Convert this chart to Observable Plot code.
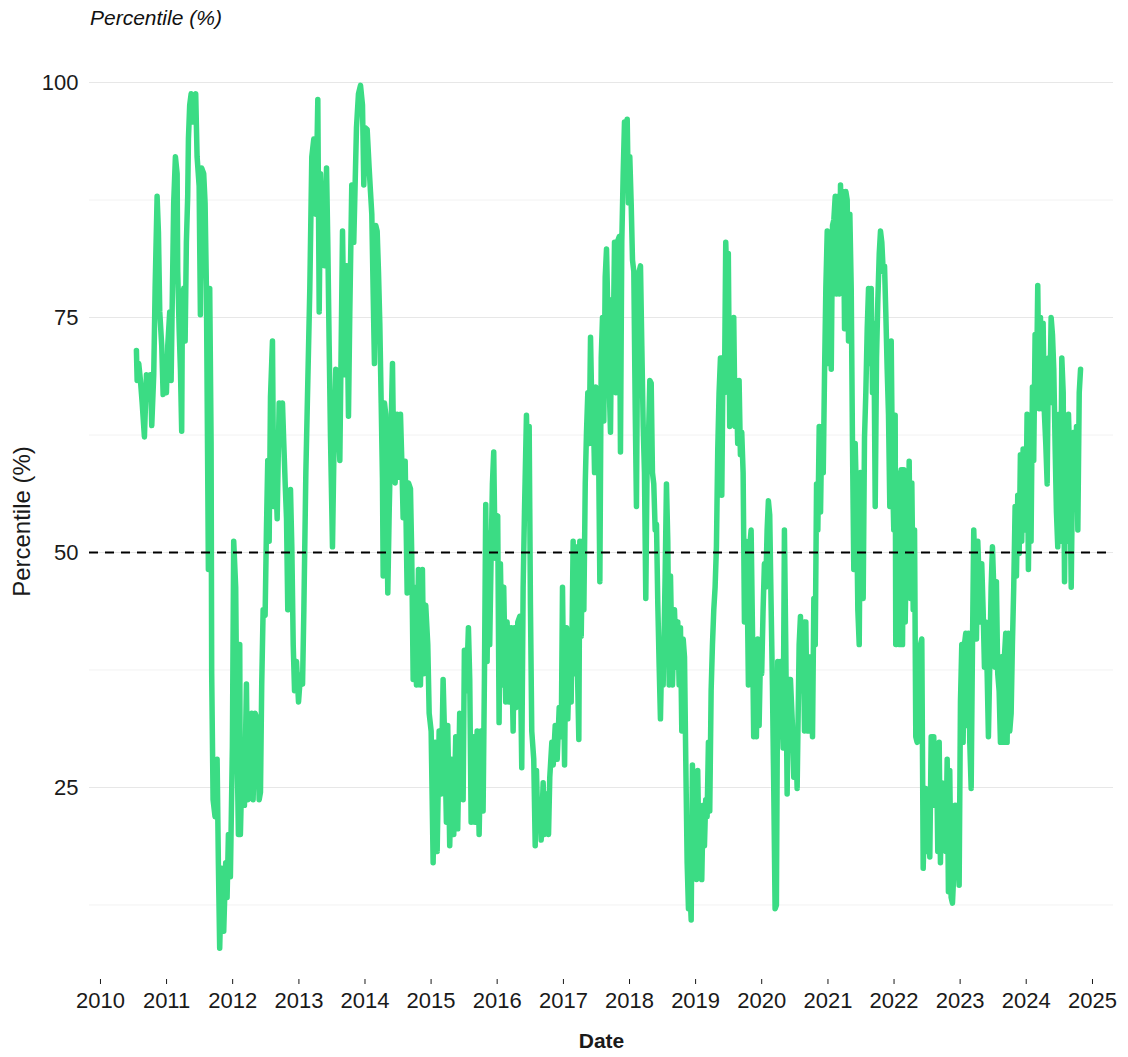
<!DOCTYPE html>
<html><head><meta charset="utf-8">
<script src="https://cdn.jsdelivr.net/npm/d3@7"></script>
<script src="https://cdn.jsdelivr.net/npm/@observablehq/plot@0.6"></script>
<style>
body{margin:0;background:#fff;font-family:"Liberation Sans",Arial,sans-serif;}
#wrap{position:relative;width:1128px;height:1057px;}
#title{position:absolute;left:90px;top:6px;font-style:italic;font-size:21px;color:#111;}
</style></head><body><div id="wrap"><div id="title">Percentile (%)</div></div>
<script>
const years = [
2010.544,2010.555,2010.579,2010.605,2010.631,2010.665,2010.696,2010.726,2010.756,2010.776,2010.806,2010.827,2010.857,2010.877,2010.897,2010.927,2010.948,2010.978,2010.998,
2011.018,2011.048,2011.069,2011.089,2011.108,2011.134,2011.160,2011.169,2011.190,2011.210,2011.229,2011.240,2011.260,2011.281,2011.300,2011.320,2011.331,2011.350,2011.372,2011.391,2011.411,2011.441,2011.462,2011.493,2011.512,2011.532,2011.562,2011.583,2011.603,2011.633,2011.653,2011.674,2011.683,2011.704,2011.734,2011.765,2011.784,2011.804,2011.834,2011.865,2011.895,2011.916,2011.936,2011.966,2011.996,
2012.016,2012.046,2012.067,2012.087,2012.107,2012.117,2012.147,2012.178,2012.208,2012.228,2012.258,2012.288,2012.309,2012.339,2012.370,2012.400,2012.420,2012.439,2012.460,2012.490,2012.510,2012.530,2012.551,2012.571,2012.601,2012.621,2012.642,2012.672,2012.702,2012.722,2012.752,2012.772,2012.793,2012.813,2012.832,2012.853,2012.873,2012.893,2012.914,2012.934,2012.964,2012.994,
2013.024,2013.055,2013.075,2013.105,2013.135,2013.165,2013.195,2013.225,2013.256,2013.286,2013.307,2013.327,2013.357,2013.387,2013.418,2013.437,2013.458,2013.478,2013.508,2013.528,2013.558,2013.588,2013.619,2013.660,2013.690,2013.720,2013.750,2013.770,2013.800,2013.830,2013.871,2013.901,2013.932,2013.962,2013.982,
2014.003,2014.033,2014.063,2014.083,2014.103,2014.124,2014.143,2014.163,2014.184,2014.204,2014.224,2014.245,2014.264,2014.275,2014.295,2014.314,2014.345,2014.366,2014.385,2014.416,2014.435,2014.456,2014.486,2014.517,2014.537,2014.556,2014.577,2014.608,2014.638,2014.658,2014.688,2014.707,2014.729,2014.748,2014.779,2014.809,2014.839,2014.869,2014.889,2014.919,2014.950,2014.971,
2015.001,2015.031,2015.061,2015.092,2015.122,2015.152,2015.182,2015.213,2015.232,2015.252,2015.282,2015.312,2015.343,2015.373,2015.403,2015.433,2015.464,2015.485,2015.504,2015.535,2015.565,2015.585,2015.606,2015.636,2015.666,2015.697,2015.727,2015.756,2015.787,2015.807,2015.827,2015.848,2015.867,2015.887,2015.908,2015.928,2015.948,2015.969,2015.988,
2016.008,2016.029,2016.049,2016.079,2016.099,2016.129,2016.150,2016.180,2016.211,2016.241,2016.261,2016.280,2016.311,2016.341,2016.371,2016.392,2016.412,2016.442,2016.462,2016.483,2016.502,2016.522,2016.552,2016.574,2016.593,2016.613,2016.643,2016.664,2016.694,2016.714,2016.744,2016.775,2016.794,2016.825,2016.846,2016.876,2016.906,2016.936,2016.967,2016.986,
2017.017,2017.036,2017.047,2017.066,2017.097,2017.117,2017.147,2017.168,2017.187,2017.208,2017.233,2017.248,2017.269,2017.289,2017.309,2017.330,2017.349,2017.369,2017.390,2017.410,2017.430,2017.451,2017.471,2017.490,2017.511,2017.531,2017.551,2017.572,2017.591,2017.611,2017.632,2017.652,2017.672,2017.693,2017.712,2017.732,2017.753,2017.773,2017.793,2017.813,2017.844,2017.863,2017.883,2017.904,2017.924,2017.944,2017.965,2017.984,
2018.004,2018.025,2018.045,2018.065,2018.086,2018.105,2018.125,2018.146,2018.166,2018.186,2018.207,2018.226,2018.246,2018.267,2018.287,2018.307,2018.328,2018.347,2018.367,2018.388,2018.408,2018.428,2018.449,2018.468,2018.488,2018.509,2018.539,2018.559,2018.579,2018.600,2018.620,2018.650,2018.680,2018.711,2018.730,2018.751,2018.771,2018.791,2018.812,2018.832,2018.851,2018.872,2018.892,2018.911,2018.933,2018.952,2018.972,2018.993,
2019.013,2019.032,2019.053,2019.073,2019.093,2019.114,2019.134,2019.153,2019.174,2019.194,2019.214,2019.235,2019.255,2019.275,2019.295,2019.315,2019.335,2019.355,2019.376,2019.396,2019.416,2019.436,2019.456,2019.477,2019.495,2019.516,2019.537,2019.557,2019.577,2019.597,2019.617,2019.637,2019.658,2019.678,2019.698,2019.719,2019.739,2019.758,2019.779,2019.799,2019.819,2019.840,2019.859,2019.879,2019.899,2019.920,2019.940,2019.961,2019.981,
2020.000,2020.021,2020.041,2020.061,2020.082,2020.101,2020.121,2020.142,2020.162,2020.182,2020.202,2020.222,2020.242,2020.263,2020.282,2020.303,2020.323,2020.343,2020.363,2020.384,2020.404,2020.434,2020.464,2020.484,2020.514,2020.535,2020.565,2020.585,2020.605,2020.625,2020.646,2020.666,2020.687,2020.706,2020.726,2020.747,2020.767,2020.787,2020.808,2020.828,2020.847,2020.868,2020.888,2020.907,2020.929,2020.948,2020.968,2020.989,
2021.009,2021.029,2021.050,2021.069,2021.089,2021.110,2021.130,2021.150,2021.171,2021.190,2021.210,2021.231,2021.251,2021.271,2021.291,2021.311,2021.331,2021.352,2021.371,2021.391,2021.412,2021.432,2021.452,2021.473,2021.492,2021.512,2021.533,2021.553,2021.573,2021.594,2021.614,2021.633,2021.654,2021.674,2021.694,2021.715,2021.735,2021.755,2021.776,2021.795,2021.815,2021.836,2021.856,2021.875,2021.896,2021.916,2021.936,2021.957,2021.976,2021.996,
2022.017,2022.026,2022.048,2022.068,2022.087,2022.108,2022.128,2022.148,2022.169,2022.189,2022.208,2022.229,2022.249,2022.269,2022.290,2022.310,2022.329,2022.350,2022.370,2022.400,2022.420,2022.441,2022.461,2022.481,2022.502,2022.521,2022.541,2022.562,2022.582,2022.601,2022.622,2022.642,2022.662,2022.683,2022.702,2022.723,2022.743,2022.763,2022.783,2022.804,2022.823,2022.843,2022.864,2022.884,2022.904,2022.924,2022.944,2022.964,2022.985,
2023.005,2023.025,2023.045,2023.065,2023.085,2023.106,2023.126,2023.146,2023.167,2023.187,2023.206,2023.227,2023.247,2023.267,2023.288,2023.307,2023.327,2023.348,2023.368,2023.388,2023.409,2023.428,2023.448,2023.469,2023.489,2023.509,2023.529,2023.549,2023.569,2023.590,2023.610,2023.629,2023.650,2023.670,2023.690,2023.711,2023.730,2023.751,2023.772,2023.791,2023.811,2023.832,2023.852,2023.872,2023.893,2023.912,2023.932,2023.953,2023.973,2023.993,
2024.013,2024.033,2024.053,2024.073,2024.094,2024.113,2024.134,2024.154,2024.174,2024.195,2024.215,2024.234,2024.255,2024.275,2024.295,2024.316,2024.335,2024.355,2024.376,2024.396,2024.416,2024.437,2024.456,2024.476,2024.497,2024.517,2024.537,2024.558,2024.578,2024.597,2024.618,2024.638,2024.658,2024.679,2024.699,2024.718,2024.739,2024.759,2024.779,2024.800,2024.820
];
const percentiles = [
71.5,68.3,70.1,68.3,65.9,62.3,68.9,67,68.9,63.5,68.9,78.1,87.9,84.1,75.6,72,66.8,68.9,67,
72,75.6,68.3,78.1,87.2,92.1,90.3,79.9,73.8,69.5,62.9,76.9,78.1,72.5,83,87.9,94,97.6,98.8,95.8,98.5,98.8,92.1,89,75.3,90.9,90.3,87.2,78.1,48.2,78.1,61.6,37.1,23.7,21.9,28,17,7.9,16.4,9.7,17,13.3,20,15.5,29.3,
51.2,46.3,29.3,20,40.2,20,29.2,23.1,36,23.7,31,32.9,23.7,32.9,32.3,23.7,24.5,36,43.9,43.3,52.4,59.8,51.2,66.5,72.5,54.9,59.8,53.6,65.9,61.6,65.9,61.6,57.3,53.6,43.9,50,56.7,50.6,40.2,35.3,38.4,34.1,
37,36,43.9,58.5,68.3,78.1,92.1,94,86,98.2,75.6,90.3,83,80.5,90.9,83,72,62.2,50.6,59.8,69.5,65.9,59.8,84.2,68.9,80.5,64.5,75.6,89.1,83,95.2,98.8,99.7,97.6,89.1,
95.2,95,90.9,88.4,86,77.5,70.1,84.8,84.2,79.9,74.4,65.9,57.9,47.5,65.9,64.7,45.7,54.3,60.4,70.1,59.8,57.4,64.7,58,64.7,60,53.7,59.7,45.7,57.4,56.8,49.9,36.5,46.3,35.9,48.2,35.9,48.2,37.1,44.4,40.2,32.9,
31,17,29.8,18.2,31,24.3,36.5,28,21.3,31.6,18.8,28,20,30.4,20.6,32.9,31,23.7,39.6,35.3,42,36.5,21.3,30.4,21.3,31,20,31,22.5,36.5,55.1,38.4,52.1,40.2,49.4,57.3,60.7,49.4,53.3,
53.9,31.9,48.8,35.9,46.3,34.1,42.6,34.1,42,31,42,33.5,42.6,43.2,27.1,46.3,54.3,64.6,58.5,63.4,44.5,31,28,18.8,26.8,21.3,23.7,19.4,25.5,20,24.3,20,26.1,29.8,27.4,31.6,28,33.5,30.4,46.3,
27.4,40.2,42,32.3,40.2,34.1,51.2,37.1,50.6,38.9,30.1,51.2,41.1,51.2,43.9,57.3,62.8,67,61.6,72.9,65.3,65.5,58.5,67.6,65.5,61.6,46.9,70.7,75,64,79.3,82.3,75.6,67.6,62.8,76.9,72,83,67,83,83.6,60.7,83,90.3,95.8,90.9,96.1,87.2,
92.1,87.2,81.1,79.9,65.3,54.9,75.6,79.9,80.5,72,63.4,58.5,45.1,59.8,62.2,68.3,68,58.5,57.3,52.4,53,44.5,37.8,32.3,39.6,35.9,47.5,57.3,51.2,35.9,47.5,35.9,43.9,37.8,42.6,35.9,42,31,40.8,38.9,28,17,12.1,14.6,10.9,27.4,15.8,26.1,
15.2,26.8,17,22.5,15.2,23.1,18.8,23.7,21.9,29.8,22.5,35.3,40.2,43.9,46.3,50.6,60.9,67,70.7,56.1,70.7,67,83,78.1,81.8,63.4,73.8,68.3,75,63.4,68.3,61.6,68.3,60.4,62.8,58.5,42.6,51.2,47.5,35.9,50.6,52.4,42.6,30.4,35.9,30.4,40.8,31.6,38.9,
37.1,43.9,48.8,46.3,52.4,55.5,54,44.5,35.9,24.9,12.1,12.5,38.4,30.4,38.4,34.1,29.2,52.4,40.2,24.3,36.5,36.5,31.6,26.1,30.4,24.9,40.2,43.2,35.3,42.6,31,42.6,31,38.9,31,38.9,30.4,45.1,40.2,57.3,52.4,63.4,54.3,63.4,58.5,68.9,78.1,84.2,
70.1,83,69.5,84.8,85.4,87.9,77.5,87.9,77.5,89.1,81.8,88.4,73.8,88.4,87.5,72.5,86,78.1,61.6,48.2,61.6,55.5,43.9,40.2,58.5,47.5,45.1,62.2,67,73.8,78.1,70.1,78.1,67,74.4,54.9,70.7,76.9,81.8,84.2,83,79.9,80.5,75.6,69.5,64.7,54.9,72.5,58.5,52.4,
64.6,40.2,58.5,57,40.2,58.8,40.2,58.8,42.6,52.4,46.3,59.7,45.1,57.4,43.9,52.4,30.4,29.8,30.4,40.2,40.8,16.4,21.9,24.9,18.2,22.5,17.6,30.4,23.1,30.4,23.1,29.2,18.2,29.8,17,25.5,20,24.9,18.2,28,13.9,26.8,13.3,12.7,15.8,23.1,17.6,23.1,14.6,
34.1,40.2,29.8,40.2,41.4,31.6,41.4,29.8,24.9,40.2,52.4,47.5,40.8,51.2,46.9,42.6,48.8,43.9,37.8,42.6,37.1,30.4,37.8,46.3,50.6,46.3,37.8,46.9,37.1,35.3,29.8,38.9,29.8,38.9,41.4,29.8,41.4,31,32.9,40.2,46.3,54.9,47.5,56.1,49.9,60.4,51.2,61,57.3,52.4,
64.7,48.2,59.8,51.2,67.6,59.8,73.2,67,78.4,65.3,75,65.3,74.4,64.7,61.6,57.3,70.7,65.9,75,73.2,69.5,60.9,54.3,50.6,64.7,51.2,70.7,67,46.9,60.9,51.2,64.7,59.5,46.3,58.5,62.8,55.5,63.4,52.4,67,69.5
];
const yMajorTicks = [25, 50, 75, 100];
const yMinorTicks = [12.5, 37.5, 62.5, 87.5];
const xTickYears = [2010,2011,2012,2013,2014,2015,2016,2017,2018,2019,2020,2021,2022,2023,2024,2025];
const referenceLine = [50];

function toDate(y){
  const yr = Math.floor(y);
  const s = Date.UTC(yr,0,1), e = Date.UTC(yr+1,0,1);
  return new Date(s + (y - yr) * (e - s));
}
const n = Math.min(years.length, percentiles.length);
const data = [];
for (let i = 0; i < n; i++) data.push({date: toDate(years[i]), value: percentiles[i]});

const chart = Plot.plot({
  width: 1128, height: 1057,
  marginLeft: 89, marginRight: 15, marginTop: 53, marginBottom: 78,
  style: {fontFamily: "'Liberation Sans', Arial, sans-serif", color: "#1a1a1a", background: "transparent"},
  x: {type: "utc", domain: [toDate(2009.834), toDate(2025.318)]},
  y: {domain: [4.57, 103.09]},
  marks: [
    Plot.ruleY(yMinorTicks, {stroke: "#f2f2f2", strokeWidth: 1}),
    Plot.ruleY(yMajorTicks, {stroke: "#e7e7e7", strokeWidth: 1}),
    Plot.line(data, {x: "date", y: "value", stroke: "#3bdc84", strokeWidth: 5.5, strokeLinejoin: "round", strokeLinecap: "round"}),
    Plot.ruleY(referenceLine, {stroke: "#000", strokeWidth: 1.8, strokeDasharray: "9,7"}),
    Plot.axisY({ticks: yMajorTicks, tickSize: 0, tickPadding: 11, fontSize: 22, label: null}),
    Plot.axisX({ticks: xTickYears.map(y => toDate(y)), tickSize: 5, tickPadding: 8, fontSize: 22, tickFormat: "%Y", label: null}),
    Plot.text(["Percentile (%)"], {text: d => d, frameAnchor: "left", dx: -67, dy: 5, rotate: -90, textAnchor: "middle", fontSize: 24}),
    Plot.text(["Date"], {text: d => d, frameAnchor: "bottom", dy: 68, fontWeight: "bold", fontSize: 21})
  ]
});
document.getElementById("wrap").insertBefore(chart, document.getElementById("title"));
chart.style.position = "absolute"; chart.style.left = "0"; chart.style.top = "0";
</script></body></html>
